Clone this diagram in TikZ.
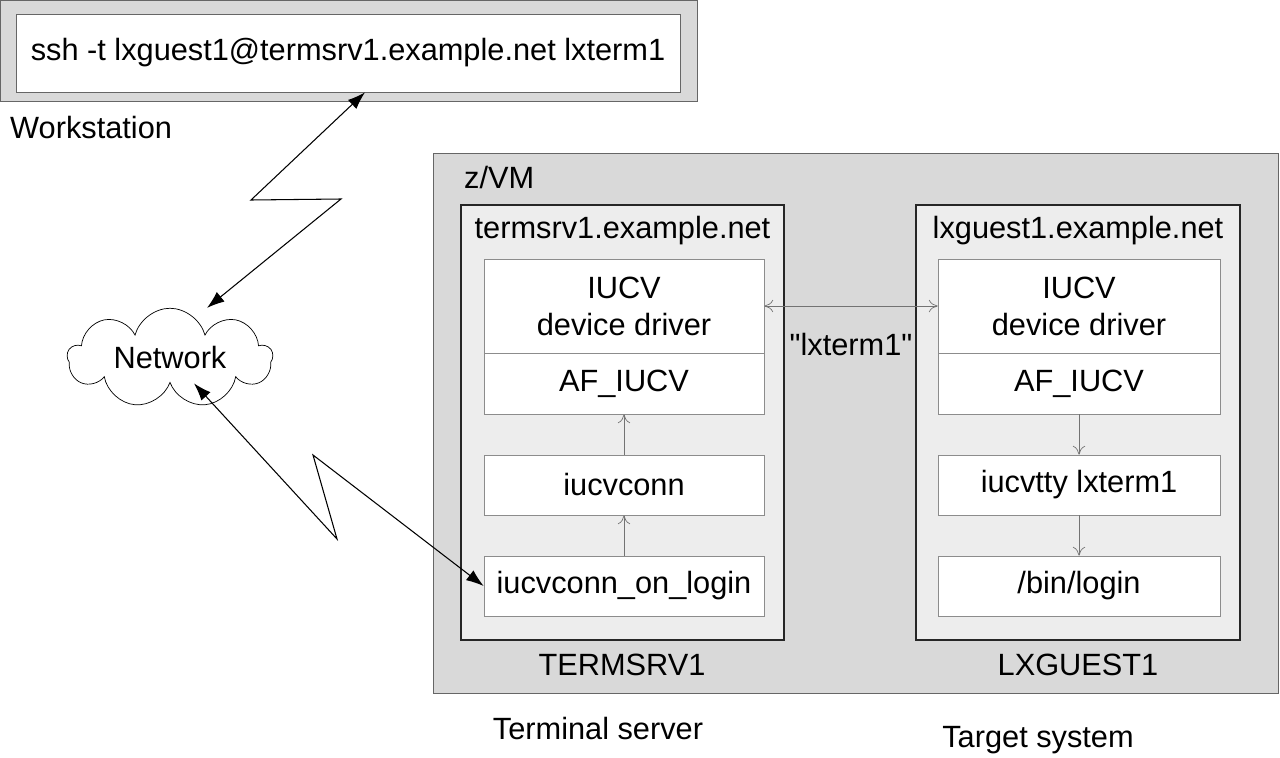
\documentclass[tikz,border=0pt]{standalone}
\usepackage{fontspec}
\setmainfont{Liberation Sans}
\usetikzlibrary{shapes.symbols,arrows.meta}
\tikzset{
	box/.style={draw=#1, inner sep=0pt},
	layer/.style={draw=black!45, fill=white, minimum width=5.6cm, inner sep=0pt, align=center},
	flow/.style={->, >={To[length=5pt,width=7pt]}, black!55},
	link/.style={<->, >={Latex[length=10pt,width=7pt]}, semithick},
}
\begin{document}
\begin{tikzpicture}[x=0.02cm, y=-0.02cm, font=\fontsize{17.5}{21}\selectfont]
	% canvas 1280 x 757 px
	\useasboundingbox (0,0) rectangle (1280,757);
	% workstation
	\node[box=black!60, fill=black!15, minimum width=13.94cm, minimum height=2.02cm] (ws) at (348.5,50.5) {};
	\node[box=black!60, fill=white, minimum width=13.28cm, minimum height=1.56cm] (cmd) at (348,53) {ssh -t lxguest1@termsrv1.example.net lxterm1};
	\node[anchor=west] (wslabel) at (4,128) {Workstation};
	% z/VM
	\node[box=black!60, fill=black!15, minimum width=16.9cm, minimum height=10.8cm] (zvm) at (855.5,423) {};
	\node[anchor=west] (zvmlabel) at (458,178) {z/VM};
	% terminal server guest
	\node[box=black!85, thick, fill=black!7, minimum width=6.46cm, minimum height=8.7cm] (term) at (622.5,422.5) {};
	\node (termname) at (622.5,231) {termsrv1.example.net};
	\node[layer, minimum height=1.88cm] (tdrv) at (624,306) {IUCV\\device driver};
	\node[layer, minimum height=1.22cm] (taf) at (624,383.5) {AF\_IUCV};
	\node[layer, minimum height=1.2cm] (tconn) at (624,485) {iucvconn};
	\node[layer, minimum height=1.2cm] (tlogin) at (624,586) {iucvconn\_on\_login};
	\node (termid) at (622,665) {TERMSRV1};
	\node (termrole) at (598,728) {Terminal server};
	% target guest
	\node[box=black!85, thick, fill=black!7, minimum width=6.48cm, minimum height=8.7cm] (lxg) at (1078,422.5) {};
	\node (lxgname) at (1078,231) {lxguest1.example.net};
	\node[layer, minimum width=5.64cm, minimum height=1.88cm] (ldrv) at (1079,306) {IUCV\\device driver};
	\node[layer, minimum width=5.64cm, minimum height=1.22cm] (laf) at (1079,383.5) {AF\_IUCV};
	\node[layer, minimum width=5.64cm, minimum height=1.2cm] (ltty) at (1079,485) {iucvtty lxterm1};
	\node[layer, minimum width=5.64cm, minimum height=1.2cm] (llogin) at (1079,586) {/bin/login};
	\node (lxgid) at (1078,665) {LXGUEST1};
	\node (lxgrole) at (1038,740) {Target system};
	% network
	\node[cloud, draw, fill=white, cloud puffs=9, aspect=2.6, minimum width=4.1cm, minimum height=1.55cm, inner sep=0pt] (net) at (170,358) {Network};
	% iucv path
	\draw[flow, <->] (tdrv.east) -- (ldrv.west) node[midway, below=12pt, text=black] (conname) {\textquotedbl lxterm1\textquotedbl};
	\draw[flow] (tlogin) -- (tconn);
	\draw[flow] (tconn) -- (taf);
	\draw[flow] (laf) -- (ltty);
	\draw[flow] (ltty) -- (llogin);
	% lightning links
	\draw[link] (cmd.south) ++(17,0) coordinate (c1) (c1) -- (251,200) -- (341,199) -- ([xshift=0.74cm]net.north);
	\draw[link] (net.south) ++(24,0) coordinate (n1) (n1) -- (337,539) -- (313,455) -- (tlogin.west);
\end{tikzpicture}
\end{document}
